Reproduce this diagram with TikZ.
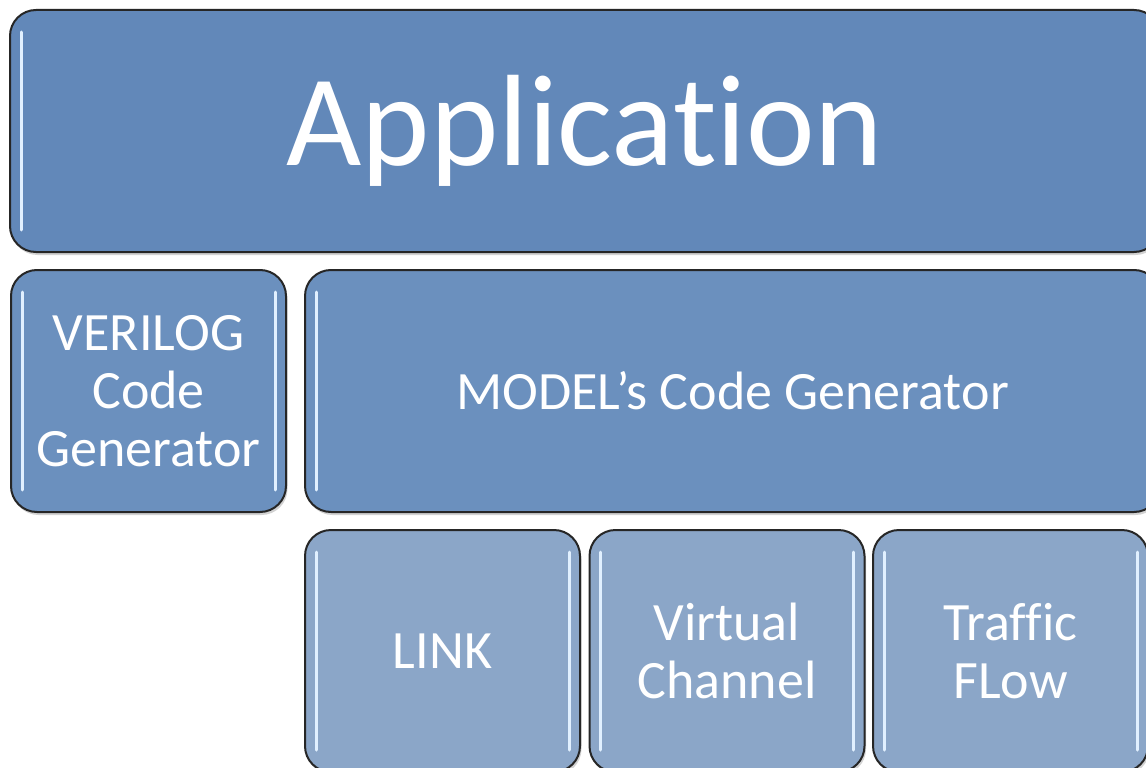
\documentclass[tikz,border=0pt]{standalone}
\usepackage{fontspec}
\setmainfont[Ligatures=NoCommon]{Carlito}
\usetikzlibrary{shadows}
\definecolor{appcol}{RGB}{98,136,185}
\definecolor{gencol}{RGB}{107,144,190}
\definecolor{partcol}{RGB}{139,166,200}
\definecolor{glosscol}{RGB}{225,240,255}
\tikzset{
  blk/.style={rectangle,rounded corners=26pt,draw=black!85,line width=2pt,text=white,
    align=center,inner sep=0pt,font=\fontsize{54}{58}\selectfont,
    drop shadow={shadow xshift=1.5pt,shadow yshift=-3pt,opacity=0.35},
    path picture={
      \draw[glosscol,line width=3pt,line cap=round]
        ([xshift=11pt,yshift=-22pt]path picture bounding box.north west) --
        ([xshift=11pt,yshift=22pt]path picture bounding box.south west);
      \draw[glosscol,line width=3pt,line cap=round]
        ([xshift=-11pt,yshift=-22pt]path picture bounding box.north east) --
        ([xshift=-11pt,yshift=22pt]path picture bounding box.south east);}},
  top/.style={blk,fill=appcol,font=\fontsize{130}{130}\selectfont},
  gen/.style={blk,fill=gencol},
  part/.style={blk,fill=partcol}
}
\begin{document}
\begin{tikzpicture}[x=1pt,y=-1pt]
  \clip (0,0) rectangle (1146,768);
  \fill[white] (0,0) rectangle (1146,768);
  % layers, top to bottom
  \node[top,minimum width=1150pt,minimum height=242pt] (app) at (585,131) {Application};
  \node[gen,minimum width=275pt,minimum height=242pt] (verilog) at (148.5,391) {VERILOG\\Code\\Generator};
  \node[gen,minimum width=855pt,minimum height=242pt] (model) at (732.5,391) {MODEL’s Code Generator};
  \node[part,minimum width=275pt,minimum height=242pt] (link) at (442.5,651) {LINK};
  \node[part,minimum width=275pt,minimum height=242pt] (vchan) at (727,651) {Virtual\\Channel};
  \node[part,minimum width=275pt,minimum height=242pt] (tflow) at (1010.5,651) {Traffic\\FLow};
\end{tikzpicture}
\end{document}
